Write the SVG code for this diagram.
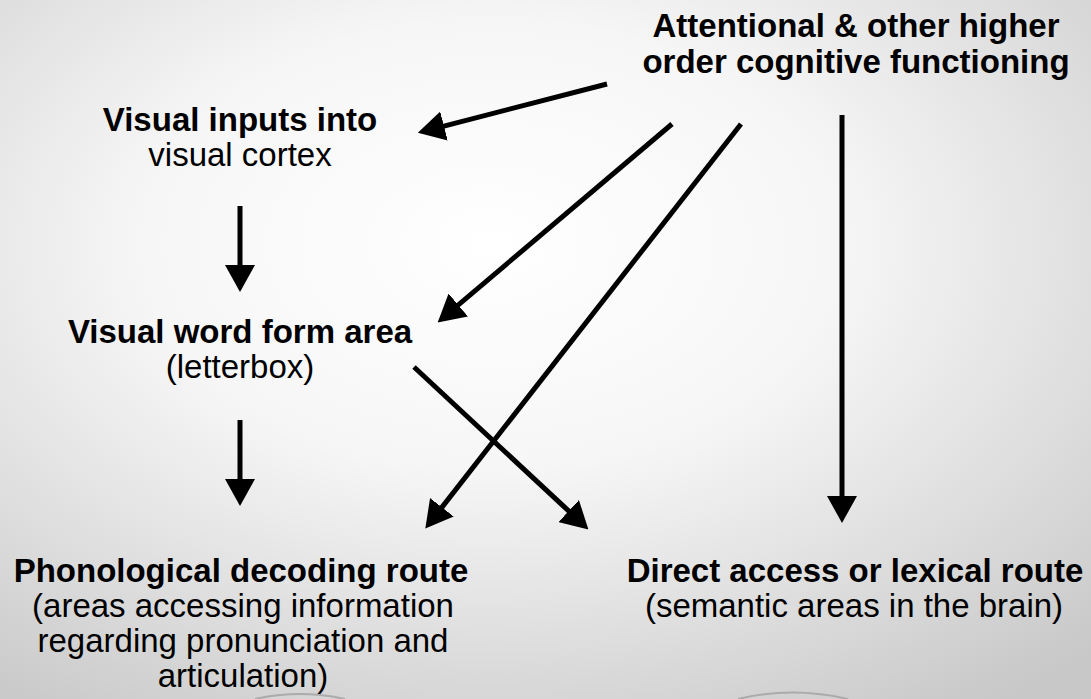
<svg xmlns="http://www.w3.org/2000/svg" width="1091" height="699" viewBox="0 0 1091 699">
  <defs>
    <radialGradient id="bg" cx="0.45" cy="0.35" r="0.8">
      <stop offset="0" stop-color="#ffffff"/>
      <stop offset="0.4" stop-color="#f6f6f6"/>
      <stop offset="1" stop-color="#c8c8c8"/>
    </radialGradient>
    <marker id="ah" markerWidth="27" markerHeight="30" refX="1" refY="15" orient="auto" markerUnits="userSpaceOnUse">
      <path d="M0,0 L27,15 L0,30 z" fill="#000"/>
    </marker>
    <style>
      text { font-family: "Liberation Sans", Arial, sans-serif; font-size: 33px; fill: #000; text-anchor: middle; }
      .b { font-weight: bold; }
      .c { stroke: #000; stroke-width: 5; fill: none; marker-end: url(#ah); }
      .deco { stroke: #9a9a9a; stroke-width: 2; fill: none; opacity: 0.7; }
    </style>
  </defs>
  <rect width="1091" height="699" fill="url(#bg)"/>
  <path class="deco" d="M255 699 Q300 689 345 699"/>
  <path class="deco" d="M738 699 Q793 686 848 699"/>

  <g id="attention">
    <text class="b" x="856" y="37">Attentional &amp; other higher</text>
    <text class="b" x="856" y="73">order cognitive functioning</text>
  </g>
  <g id="visual-inputs">
    <text class="b" x="240" y="131">Visual inputs into</text>
    <text x="240" y="166">visual cortex</text>
  </g>
  <g id="vwfa">
    <text class="b" x="240" y="343">Visual word form area</text>
    <text x="240" y="378">(letterbox)</text>
  </g>
  <g id="phonological">
    <text class="b" x="241" y="582">Phonological decoding route</text>
    <text x="243" y="617">(areas accessing information</text>
    <text x="243" y="652">regarding pronunciation and</text>
    <text x="243" y="687">articulation)</text>
  </g>
  <g id="direct">
    <text class="b" x="855" y="582">Direct access or lexical route</text>
    <text x="854" y="617">(semantic areas in the brain)</text>
  </g>

  <g id="connectors">
    <line class="c" x1="607" y1="84" x2="443" y2="126.3"/>
    <line class="c" x1="672" y1="124" x2="457.5" y2="305.6"/>
    <line class="c" x1="741" y1="124" x2="441.3" y2="508.1"/>
    <line class="c" x1="414" y1="367" x2="569.4" y2="511.7"/>
    <line class="c" x1="842" y1="115" x2="842" y2="497"/>
    <line class="c" x1="240" y1="206" x2="240" y2="266"/>
    <line class="c" x1="240" y1="420" x2="240" y2="480"/>
  </g>
</svg>
